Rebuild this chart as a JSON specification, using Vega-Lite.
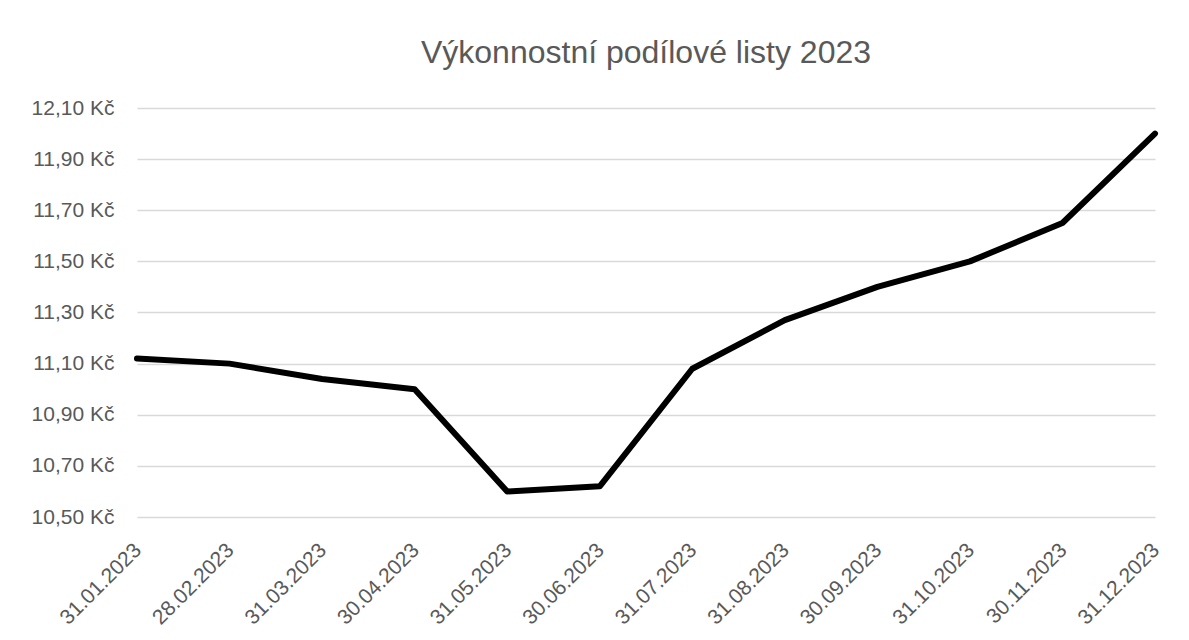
{
  "$schema": "https://vega.github.io/schema/vega-lite/v6.json",
  "width": 1018,
  "height": 409,
  "autosize": "none",
  "padding": {"left": 137, "top": 108, "right": 34, "bottom": 123},
  "background": "white",
  "title": {
    "text": "Výkonnostní podílové listy 2023",
    "font": "Liberation Sans",
    "fontSize": 32,
    "fontWeight": "normal",
    "color": "#595959",
    "anchor": "middle",
    "offset": 27
  },
  "data": {
    "values": [
      {"date": "31.01.2023", "value": 11.12},
      {"date": "28.02.2023", "value": 11.10},
      {"date": "31.03.2023", "value": 11.04},
      {"date": "30.04.2023", "value": 11.00},
      {"date": "31.05.2023", "value": 10.60},
      {"date": "30.06.2023", "value": 10.62},
      {"date": "31.07.2023", "value": 11.08},
      {"date": "31.08.2023", "value": 11.27},
      {"date": "30.09.2023", "value": 11.40},
      {"date": "31.10.2023", "value": 11.50},
      {"date": "30.11.2023", "value": 11.65},
      {"date": "31.12.2023", "value": 12.00}
    ]
  },
  "mark": {"type": "line", "color": "black", "strokeWidth": 6, "strokeCap": "round", "strokeJoin": "round"},
  "encoding": {
    "x": {
      "field": "date",
      "type": "ordinal",
      "sort": null,
      "scale": {"type": "point", "padding": 0},
      "axis": {
        "title": null,
        "labelAngle": -45,
        "labelFont": "Liberation Sans",
        "labelFontSize": 21,
        "labelColor": "#595959",
        "ticks": false,
        "domain": false,
        "grid": false,
        "labelPadding": 22,
        "labelOffset": -7
      }
    },
    "y": {
      "field": "value",
      "type": "quantitative",
      "scale": {"domain": [10.5, 12.1], "nice": false, "zero": false},
      "axis": {
        "title": null,
        "values": [10.5, 10.7, 10.9, 11.1, 11.3, 11.5, 11.7, 11.9, 12.1],
        "labelExpr": "replace(format(datum.value, '.2f'), '.', ',') + ' Kč'",
        "labelFont": "Liberation Sans",
        "labelFontSize": 21,
        "labelColor": "#595959",
        "ticks": false,
        "domain": false,
        "grid": true,
        "gridColor": "#d9d9d9",
        "gridWidth": 1.5,
        "labelPadding": 23
      }
    }
  },
  "config": {"view": {"stroke": null}}
}
